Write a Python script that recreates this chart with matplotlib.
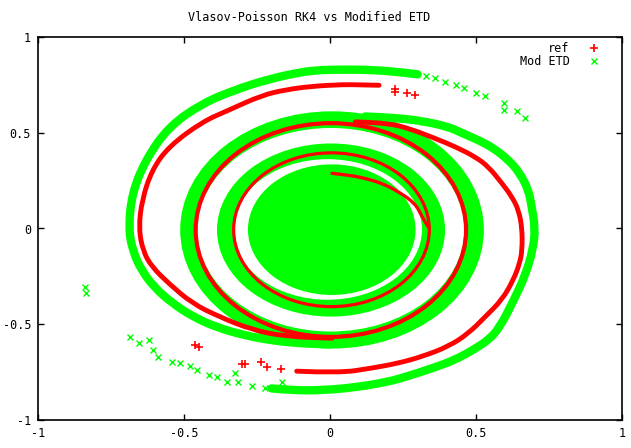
import matplotlib
matplotlib.use("Agg")
import matplotlib.pyplot as plt
from matplotlib.patches import Ellipse, PathPatch
from matplotlib.path import Path
from matplotlib.lines import Line2D

# ring bands: (left, right, top, bottom) of each edge
ring3_outer = (-0.513, 0.527, 0.612, -0.627)
ring3_inner = (-0.455, 0.460, 0.525, -0.538)
ring2_outer = (-0.387, 0.394, 0.444, -0.460)
ring2_inner = (-0.332, 0.315, 0.362, -0.372)
core = (-0.281, 0.293, 0.335, -0.347)

# red rings (ref) inside the green bands
red_ring3 = (-0.460, 0.466, 0.550, -0.566)
red_ring2 = (-0.330, 0.340, 0.395, -0.408)

# outer green arm, top / left side (dense part)
gL_x = [0.30, 0.25, 0.15, 0.05, -0.03, -0.096, -0.21, -0.324, -0.438, -0.553, -0.632,
        -0.678, -0.69, -0.675, -0.645, -0.60, -0.54, -0.47, -0.39, -0.30, -0.20, -0.10, 0.0]
gL_y = [0.805, 0.815, 0.828, 0.83, 0.828, 0.818, 0.78, 0.725, 0.653, 0.531, 0.357,
        0.184, 0.0, -0.12, -0.22, -0.31, -0.39, -0.46, -0.515, -0.555, -0.585, -0.60, -0.605]
gL_tip_x = [0.669, 0.64, 0.595, 0.595, 0.53, 0.50, 0.458, 0.43, 0.394, 0.36, 0.33]
gL_tip_y = [0.575, 0.613, 0.618, 0.653, 0.69, 0.705, 0.736, 0.75, 0.765, 0.785, 0.795]

# outer green arm, bottom / right side
gR_x = [-0.20, -0.13, -0.03, 0.087, 0.20, 0.258, 0.35, 0.429, 0.50, 0.543, 0.58, 0.63,
        0.67, 0.695, 0.703, 0.69, 0.68, 0.65, 0.612, 0.56, 0.509, 0.45, 0.406, 0.315, 0.22, 0.12]
gR_y = [-0.835, -0.845, -0.845, -0.83, -0.80, -0.775, -0.73, -0.686, -0.625, -0.581, -0.52,
        -0.373, -0.24, -0.11, 0.0, 0.12, 0.20, 0.29, 0.357, 0.42, 0.461, 0.50, 0.531, 0.562,
        0.578, 0.585]
gR_tip_x = [-0.84, -0.835, -0.685, -0.654, -0.62, -0.605, -0.588, -0.541, -0.513, -0.479,
            -0.455, -0.416, -0.387, -0.353, -0.324, -0.314, -0.267, -0.221, -0.164]
gR_tip_y = [-0.305, -0.335, -0.566, -0.597, -0.58, -0.634, -0.669, -0.695, -0.703, -0.72,
            -0.738, -0.764, -0.773, -0.799, -0.755, -0.799, -0.825, -0.833, -0.799]

# red arms
rL_x = [0.168, 0.10, 0.05, -0.062, -0.15, -0.233, -0.347, -0.438, -0.553, -0.61, -0.644,
        -0.655, -0.64, -0.61, -0.553, -0.473, -0.381, -0.267, -0.153, 0.007]
rL_y = [0.748, 0.75, 0.752, 0.743, 0.725, 0.696, 0.618, 0.557, 0.427, 0.305, 0.149,
        0.0, -0.12, -0.2, -0.286, -0.39, -0.46, -0.529, -0.564, -0.573]
rL_tip_x = [0.29, 0.264, 0.223, 0.223]
rL_tip_y = [0.696, 0.708, 0.713, 0.727]

rR_x = [-0.114, 0.03, 0.144, 0.235, 0.315, 0.406, 0.475, 0.532, 0.589, 0.628, 0.65, 0.658,
        0.658, 0.646, 0.623, 0.589, 0.543, 0.498, 0.429, 0.361, 0.27, 0.2, 0.087]
rR_y = [-0.745, -0.755, -0.729, -0.703, -0.669, -0.616, -0.547, -0.46, -0.373, -0.269, -0.18,
        -0.112, 0.0, 0.096, 0.166, 0.236, 0.322, 0.374, 0.427, 0.47, 0.523, 0.549, 0.557]
rR_tip_x = [-0.461, -0.45, -0.30, -0.29, -0.238, -0.217, -0.169]
rR_tip_y = [-0.608, -0.62, -0.705, -0.71, -0.697, -0.723, -0.732]

# red arc along the edge of the core
rC_x = [0.007, 0.064, 0.121, 0.178, 0.235, 0.292, 0.315, 0.336]
rC_y = [0.288, 0.279, 0.262, 0.236, 0.192, 0.131, 0.062, 0.009]

GREEN = "#00ff00"
RED = "#ff0000"


def ell(b, **kw):
    l, r, t, bo = b
    return Ellipse(((l + r) / 2, (t + bo) / 2), r - l, t - bo, **kw)


def curve(xs, ys, **kw):
    # quadratic bezier through the midpoints, read points act as control points
    pts = list(zip(xs, ys))
    verts = [pts[0]]
    codes = [Path.MOVETO]
    for i in range(1, len(pts) - 1):
        mid = ((pts[i][0] + pts[i + 1][0]) / 2, (pts[i][1] + pts[i + 1][1]) / 2)
        verts += [pts[i], mid]
        codes += [Path.CURVE3, Path.CURVE3]
    verts.append(pts[-1])
    codes.append(Path.LINETO)
    return PathPatch(Path(verts, codes), facecolor="none", capstyle="round",
                     joinstyle="round", **kw)


fig = plt.figure(figsize=(6.31, 4.48), dpi=100)
ax = fig.add_axes([38 / 631, 28 / 448, 584 / 631, 383 / 448])

# green bands, drawn as stacked filled ellipses
ax.add_patch(ell(ring3_outer, facecolor=GREEN, edgecolor="none", zorder=1))
ax.add_patch(ell(ring3_inner, facecolor="white", edgecolor="none", zorder=1))
ax.add_patch(ell(ring2_outer, facecolor=GREEN, edgecolor="none", zorder=1))
ax.add_patch(ell(ring2_inner, facecolor="white", edgecolor="none", zorder=1))
ax.add_patch(ell(core, facecolor=GREEN, edgecolor="none", zorder=1))

ax.add_patch(curve(gL_x, gL_y, edgecolor=GREEN, lw=6.0, zorder=2))
ax.add_patch(curve(gR_x, gR_y, edgecolor=GREEN, lw=6.0, zorder=2))
ax.plot(gL_tip_x, gL_tip_y, ls="none", marker="x", color=GREEN, ms=4, mew=1, zorder=2)
ax.plot(gR_tip_x, gR_tip_y, ls="none", marker="x", color=GREEN, ms=4, mew=1, zorder=2)

# red (ref)
ax.add_patch(ell(red_ring3, facecolor="none", edgecolor=RED, lw=3.0, zorder=3))
ax.add_patch(ell(red_ring2, facecolor="none", edgecolor=RED, lw=2.3, zorder=3))
ax.add_patch(curve(rL_x, rL_y, edgecolor=RED, lw=3.5, zorder=3))
ax.add_patch(curve(rR_x, rR_y, edgecolor=RED, lw=3.5, zorder=3))
ax.add_patch(curve(rC_x, rC_y, edgecolor=RED, lw=2.4, zorder=3))
ax.plot(rL_tip_x, rL_tip_y, ls="none", marker="+", color=RED, ms=6, mew=1.2, zorder=3)
ax.plot(rR_tip_x, rR_tip_y, ls="none", marker="+", color=RED, ms=6, mew=1.2, zorder=3)

ax.set_xlim(-1, 1)
ax.set_ylim(-1, 1)
ax.set_xticks([-1, -0.5, 0, 0.5, 1])
ax.set_yticks([-1, -0.5, 0, 0.5, 1])
ax.set_xticklabels(["-1", "-0.5", "0", "0.5", "1"])
ax.set_yticklabels(["-1", "-0.5", "0", "0.5", "1"])
ax.tick_params(direction="in", length=4.5, width=1, top=True, right=True,
               labelsize=8.5, pad=5)
for lab in ax.get_xticklabels() + ax.get_yticklabels():
    lab.set_family("DejaVu Sans Mono")
for sp in ax.spines.values():
    sp.set_linewidth(1.2)

fig.text(0.49, 0.96, "Vlasov-Poisson RK4 vs Modified ETD", ha="center", va="center",
         family="DejaVu Sans Mono", fontsize=8.5)

handles = [Line2D([], [], ls="none", marker="+", color=RED, ms=6, mew=1.2),
           Line2D([], [], ls="none", marker="x", color=GREEN, ms=4, mew=1)]
leg = ax.legend(handles, ["ref", "Mod ETD"], loc="upper right", frameon=False,
                markerfirst=False, prop={"family": "DejaVu Sans Mono", "size": 8.5},
                handlelength=1.0, handletextpad=1.6, labelspacing=0.0,
                borderaxespad=0.0, bbox_to_anchor=(0.971, 1.0))
for t in leg.get_texts():
    t.set_ha("right")

fig.savefig("out.png", dpi=100)
